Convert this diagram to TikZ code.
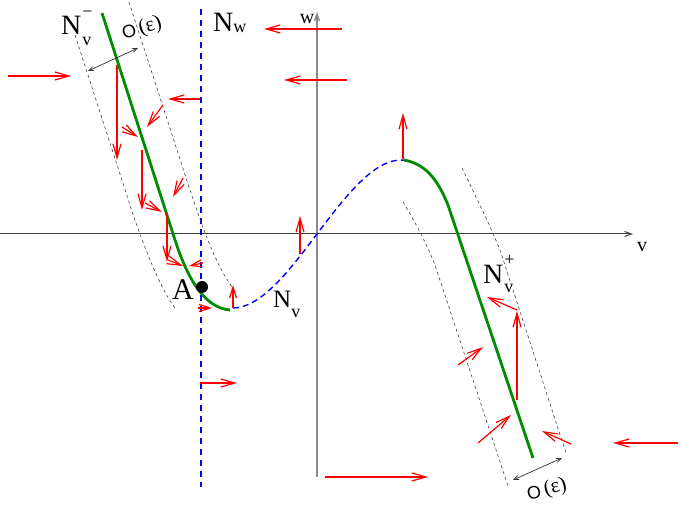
\documentclass[tikz,border=0pt]{standalone}
\usepackage{fontspec}
\setmainfont{Liberation Serif}
\setsansfont{Liberation Sans}
\usetikzlibrary{arrows.meta}
\definecolor{fgreen}{RGB}{0,140,0}
\newcommand{\subfnt}{\fontsize{18}{18}\selectfont}
\newcommand{\epslab}{{\sffamily\fontsize{18}{18}\selectfont O}\,\,{\fontsize{21}{21}\selectfont(ε)}}
\begin{document}
\begin{tikzpicture}[x=1pt,y=-1pt,
  redarr/.style={red, line width=1.2pt, -{Straight Barb[length=14pt,width=8pt]}},
  redsmall/.style={red, line width=1.2pt, -{Straight Barb[length=11pt,width=7pt]}},
  tube/.style={black!75, line width=0.6pt, dash pattern=on 3pt off 3pt},
  bluedash/.style={blue, line width=1.4pt, dash pattern=on 6pt off 4pt},
  branch/.style={fgreen, line width=2.8pt},
  epsarr/.style={black!80, line width=0.7pt, {Straight Barb[length=5pt,width=4pt]}-{Straight Barb[length=5pt,width=4pt]}},
  biglab/.style={anchor=base west, inner sep=0pt, font=\fontsize{28}{30}\selectfont},
  axlab/.style={inner sep=0pt, font=\fontsize{20}{20}\selectfont}]
\useasboundingbox (0,0) rectangle (680,510);

% axes
\draw[black!75, line width=1pt, -{Straight Barb[length=7pt,width=5pt]}] (0,234) -- (633,234);
\draw[black!45, line width=1.4pt, -{Straight Barb[length=7pt,width=5pt]}] (317,477) -- (317,12);
\node[axlab] (lv) at (642,247) {v};
\node[axlab] (lw) at (307,19) {w};

% N_w line
\draw[bluedash, dash pattern=on 6pt off 5pt] (201,9) -- (201,487);

% tube boundaries
\draw[tube] (75,35) -- (130,205) .. controls (140,236) and (158,285) .. (175,308);
\draw[tube] (129,2) -- (190,190) .. controls (200,220) and (215,265) .. (233,288);
\draw[tube] (403,202) .. controls (415,222) and (425,240) .. (435,265) -- (508,486);
\draw[tube] (462,168) .. controls (475,195) and (490,225) .. (500,250) -- (566,453);

% cubic nullcline
\draw[bluedash] plot[domain=-84:100, samples=80, smooth]
  ({317+\x},{234 + 62.4*(\x/100)*(\x/100)*(\x/100) - 1.32*\x});

% slow branches
\draw[branch] (102,13) -- (175,240) .. controls (188,280) and (205,308) .. (230,310);
\draw[branch] (404,160) .. controls (425,164) and (437,178) .. (448,205) -- (533,458);

% point A
\fill[black] (202,287) circle (6pt);
\node[biglab, font=\fontsize{30}{32}\selectfont] (lA) at (172,300) {A};

% O(eps) markers
\draw[epsarr] (88,71) -- (138,48);
\node[inner sep=0pt, rotate=18] (le1) at (142,29) {\epslab};
\draw[epsarr] (513,480) -- (562,458);
\node[inner sep=0pt, rotate=15] (le2) at (547,490) {\epslab};

% labels
\node[biglab] (lNm) at (61,35) {N\kern1pt\rlap{\raisebox{17pt}{\subfnt −}}\raisebox{-11pt}{\subfnt v}};
\node[biglab] (lNw) at (213,32) {N\raisebox{-1pt}{\subfnt w}};
\node[biglab, font=\fontsize{25}{27}\selectfont] (lNv) at (273,308) {N\raisebox{-10pt}{\subfnt v}};
\node[biglab] (lNp) at (483,284) {N\kern1pt\rlap{\raisebox{18pt}{\subfnt +}}\raisebox{-9pt}{\subfnt v}};

% red arrows
\draw[redarr] (8,76) -- (71,76);
\draw[redarr] (342,29) -- (264,29);
\draw[redarr] (347,80) -- (284,80);
\draw[redarr] (200,99) -- (168,99);
\draw[redarr] (163,105) -- (147,127);
\draw[redarr] (122,127) -- (138,137);
\draw[redarr] (117,65) -- (117,160);
\draw[redarr] (142,150) -- (142,210);
\draw[redarr] (145,203) -- (162,212);
\draw[redarr] (183,178) -- (173,197);
\draw[redarr] (167,213) -- (167,262);
\draw[redarr] (168,260) -- (183,266);
\draw[redsmall] (203,263) -- (189,266);
\draw[redsmall] (198,308) -- (212,308);
\draw[redsmall] (233,308) -- (233,285);
\draw[redarr] (300,254) -- (300,216);
\draw[redarr] (200,383) -- (237,383);
\draw[redarr] (325,477) -- (428,477);
\draw[redarr] (403,159) -- (403,113);
\draw[redarr] (517,400) -- (517,311);
\draw[redarr] (517,310) -- (487,297);
\draw[redarr] (458,365) -- (483,347);
\draw[redarr] (478,443) -- (511,415);
\draw[redarr] (571,444) -- (542,431);
\draw[redarr] (678,443) -- (613,443);
\end{tikzpicture}
\end{document}
